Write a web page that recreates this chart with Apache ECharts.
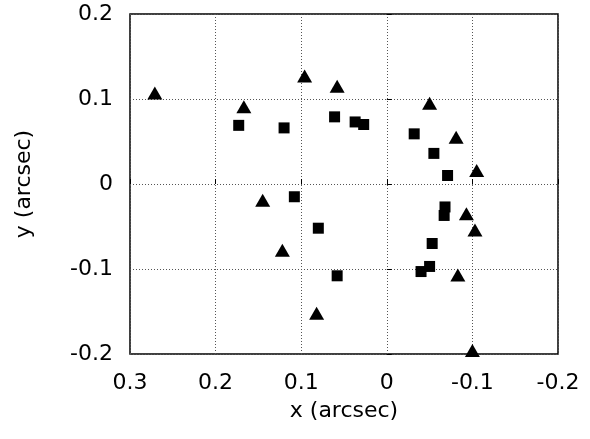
<!DOCTYPE html>
<html>
<head>
<meta charset="utf-8">
<script src="https://cdn.jsdelivr.net/npm/echarts@6/dist/echarts.min.js"></script>
<style>
  html, body { margin: 0; padding: 0; background: #fff; }
  #chart { width: 590px; height: 439px; }
</style>
</head>
<body>
<div id="chart"></div>
<script>
// triangles: [x, y] in arcsec
const triangles = [
  [0.271, 0.107], [0.167, 0.091], [0.096, 0.127], [0.058, 0.115],
  [-0.050, 0.095], [-0.081, 0.055], [-0.105, 0.016],
  [0.145, -0.019], [0.122, -0.078], [0.082, -0.152],
  [-0.093, -0.035], [-0.103, -0.054], [-0.083, -0.107], [-0.100, -0.196]
]
// squares
const squares = [
  [0.173, 0.069], [0.120, 0.066], [0.061, 0.079], [0.037, 0.073], [0.027, 0.070],
  [-0.032, 0.059], [-0.055, 0.036], [-0.071, 0.010],
  [0.108, -0.015], [0.080, -0.052], [0.058, -0.108],
  [-0.068, -0.027], [-0.067, -0.037], [-0.053, -0.070], [-0.050, -0.097], [-0.040, -0.103]
]
const xTicks = ['-0.2', '-0.1', '0', '0.1', '0.2', '0.3']
const yTicks = ['-0.2', '-0.1', '0', '0.1', '0.2']

const fmt = (ticks) => (v) => {
  const s = String(Math.round(v * 10) / 10)
  return ticks.includes(s) ? s : ''
}

const font = 'DejaVu Sans, Liberation Sans, sans-serif'
const chart = echarts.init(document.getElementById('chart'))

const axisCommon = {
  nameLocation: 'middle',
  nameTextStyle: { fontFamily: font, fontSize: 22, color: '#000' },
  axisLine: { show: false },
  axisTick: { show: true, inside: true, length: 5, lineStyle: { color: '#000' } },
  splitLine: { show: true, lineStyle: { color: '#555', type: [1, 2], width: 1 } },
  axisLabel: { fontFamily: font, fontSize: 22, color: '#000' }
}

chart.setOption({
  animation: false,
  grid: {
    left: 130, right: 32, top: 14, bottom: 85,
    show: true, borderColor: '#000', borderWidth: 1.5, backgroundColor: '#fff'
  },
  xAxis: Object.assign({}, axisCommon, {
    type: 'value',
    inverse: true,
    min: -0.2, max: 0.3, interval: 0.1,
    name: 'x (arcsec)',
    nameGap: 46,
    axisLabel: Object.assign({}, axisCommon.axisLabel, { margin: 18, formatter: fmt(xTicks) })
  }),
  yAxis: Object.assign({}, axisCommon, {
    type: 'value',
    min: -0.2, max: 0.2, interval: 0.1,
    name: 'y (arcsec)',
    nameGap: 95,
    axisLabel: Object.assign({}, axisCommon.axisLabel, { margin: 17, formatter: fmt(yTicks) })
  }),
  series: [
    {
      type: 'scatter',
      data: triangles,
      symbol: 'triangle',
      symbolSize: [15, 13],
      itemStyle: { color: '#000', opacity: 1 }
    },
    {
      type: 'scatter',
      data: squares,
      symbol: 'rect',
      symbolSize: 11,
      itemStyle: { color: '#000', opacity: 1 }
    }
  ]
})
</script>
</body>
</html>
